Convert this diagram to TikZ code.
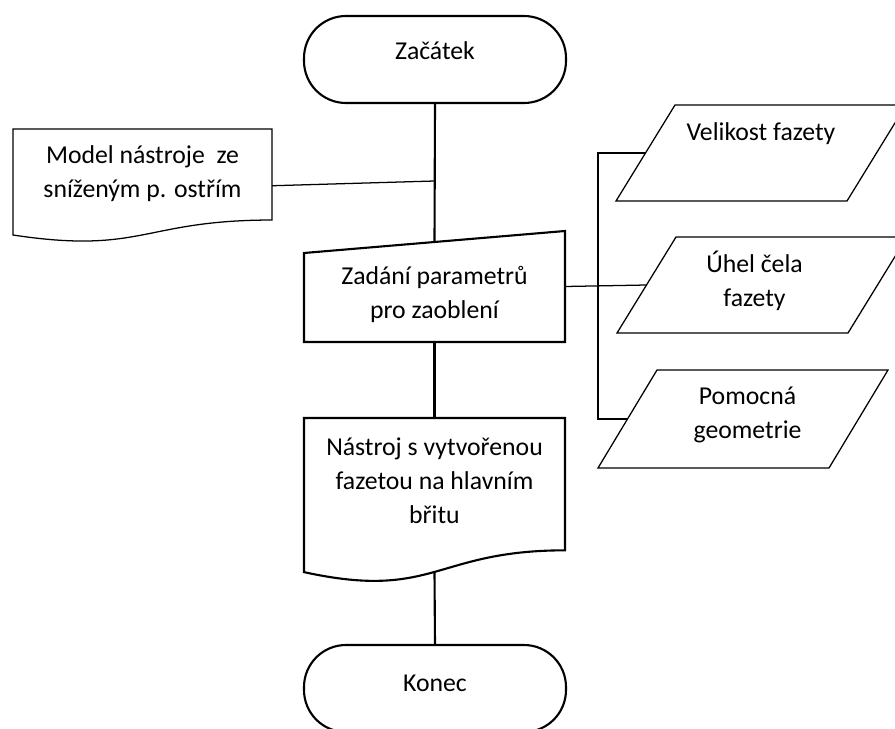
\documentclass[tikz,border=0pt]{standalone}
\usepackage{fontspec}
\setmainfont{Carlito}
\usetikzlibrary{calc}
\newcommand{\pxu}{0.025cm}
% document outline with a wavy bottom
\newcommand{\drawdoc}[2]{%
  \draw[#1] (#2.north west) -- (#2.north east)
    -- ($(#2.north east)!0.802!(#2.south east)$)
    .. controls ($(#2.north)!0.802!(#2.south)$) and ($(#2.north)!1.107!(#2.south)$)
    .. ($(#2.north west)!0.934!(#2.south west)$) -- cycle;}
% data (parallelogram) outline
\newcommand{\drawdata}[2]{%
  \draw[#1] ($(#2.north west)+(59,0)$) -- (#2.north east)
    -- ($(#2.south east)-(59,0)$) -- (#2.south west) -- cycle;}
\tikzset{
  txt/.style={font=\fontsize{18.3}{24.3}\selectfont, align=center, inner sep=0pt},
  shapebox/.style={inner sep=0pt, outer sep=0pt},
  term/.style={shapebox, draw, line width=1.5pt, rounded corners=1.05cm,
    minimum width=262*\pxu, minimum height=87*\pxu},
  thickln/.style={line width=1.5pt},
  thinln/.style={line width=0.9pt}
}
\begin{document}
\begin{tikzpicture}[x=\pxu, y=-\pxu]
    \useasboundingbox (0,0) rectangle (895,729);

    % Main column
    \node[term, label={[txt,yshift=8.5*\pxu]center:Začátek}] (zac) at (435,59.5) {};
    \node[shapebox, minimum width=261*\pxu, minimum height=111*\pxu,
      label={[txt,yshift=-8*\pxu]center:{Zadání parametrů\\pro zaoblení}}] (zad) at (434.5,286.5) {};
    \draw[thickln] ($(zad.north west)+(0,22)$) -- (zad.north east) -- (zad.south east) -- (zad.south west) -- cycle;
    \node[shapebox, minimum width=261*\pxu, minimum height=165*\pxu,
      label={[txt,yshift=20*\pxu]center:{Nástroj s vytvořenou\\fazetou na hlavním\\břitu}}] (nas) at (434.5,500.5) {};
    \drawdoc{thickln}{nas}
    \node[term, label={[txt,yshift=5*\pxu]center:Konec}] (kon) at (435,688.5) {};

    % Input model (left)
    \node[shapebox, minimum width=259*\pxu, minimum height=113.5*\pxu,
      label={[txt,yshift=11.75*\pxu]center:{Model nástroje~ ze\\sníženým p. ostřím}}] (model) at (142.5,185.75) {};
    \drawdoc{thinln}{model}

    % Parameters (right)
    \node[shapebox, minimum width=290*\pxu, minimum height=96*\pxu,
      label={[txt,yshift=19*\pxu]center:Velikost fazety}] (vel) at (761,153) {};
    \node[shapebox, minimum width=290*\pxu, minimum height=96*\pxu,
      label={[txt,xshift=-7.5*\pxu,yshift=4*\pxu]center:{Úhel čela\\fazety}}] (uhel) at (762,285) {};
    \node[shapebox, minimum width=290*\pxu, minimum height=98*\pxu,
      label={[txt,xshift=4.5*\pxu,yshift=4*\pxu]center:{Pomocná\\geometrie}}] (pom) at (743,419) {};
    \drawdata{thinln}{vel}
    \drawdata{thinln}{uhel}
    \drawdata{thinln}{pom}

    % Connectors
    \coordinate (jm) at (434.5,181);
    \coordinate (bt) at (vel.west -| pom.west);
    \draw[thickln] (zac.south) -- ($(zad.north)+(0,11)$);
    \draw[thinln] (model.east) -- (jm);
    \draw[thickln] (zad.south) -- (nas.north);
    \draw[thickln] ($(nas.north)!0.933!(nas.south)$) -- (kon.north);
    \draw[thinln] ($(vel.west)+(29.5,0)$) -- (bt) -- (pom.west) -- ($(pom.west)+(29.5,0)$);
    \draw[thinln] (zad.east) -- ($(uhel.west)+(29.5,0)$);
\end{tikzpicture}
\end{document}
